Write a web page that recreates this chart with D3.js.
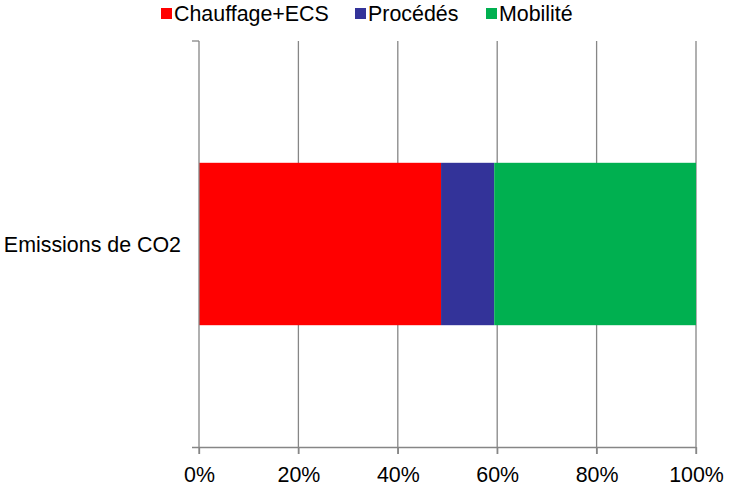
<!DOCTYPE html>
<html>
<head>
<meta charset="utf-8">
<script src="https://cdn.jsdelivr.net/npm/d3@7"></script>
<style>
  html, body { margin: 0; padding: 0; background: #fff; }
  svg { display: block; font-family: "Liberation Sans", Arial, sans-serif; }
</style>
</head>
<body>
<svg id="chart" width="730" height="492"></svg>
<script>
// Share of CO2 emissions by usage (percent of total)
const categories = ["Emissions de CO2"];
const seriesNames = ["Chauffage+ECS", "Procédés", "Mobilité"];
const seriesColors = ["#ff0000", "#333399", "#00b050"];
const chauffage = [48.7];
const procedes = [10.7];
const mobilite = [40.6];
const tickValues = [0, 20, 40, 60, 80, 100];

const svg = d3.select("#chart");
const plot = { left: 199, right: 696, top: 41, bottom: 447 };
const fontSize = "21.4px";

const x = d3.scaleLinear().domain([0, 100]).range([plot.left, plot.right]);
const y = d3.scaleBand().domain(categories).range([plot.top, plot.bottom]).paddingInner(0.6).paddingOuter(0.3);

const rows = categories.map((c, i) => ({
  cat: c, "Chauffage+ECS": chauffage[i], "Procédés": procedes[i], "Mobilité": mobilite[i]
}));
const stacked = d3.stack().keys(seriesNames)(rows);

// vertical gridlines
svg.append("g").selectAll("line").data(tickValues.slice(1)).join("line")
  .attr("x1", d => x(d)).attr("x2", d => x(d))
  .attr("y1", plot.top).attr("y2", plot.bottom + 7)
  .attr("stroke", "#868686").attr("stroke-width", 1.3);

// stacked bars
svg.append("g").selectAll("g").data(stacked).join("g")
  .attr("fill", (d, i) => seriesColors[i])
  .selectAll("rect").data(d => d).join("rect")
  .attr("x", d => x(d[0]))
  .attr("width", d => x(d[1]) - x(d[0]))
  .attr("y", d => y(d.data.cat))
  .attr("height", y.bandwidth());

// value axis (bottom)
const xAxis = d3.axisBottom(x).tickValues(tickValues).tickSize(7).tickSizeOuter(0)
  .tickFormat(d => d + "%").tickPadding(13);
const gx = svg.append("g").attr("transform", `translate(0,${plot.bottom})`).call(xAxis);
gx.select(".domain").attr("stroke", "#868686").attr("stroke-width", 1.3)
  .attr("d", `M${plot.left - 7},0.5H${plot.right}`);
gx.selectAll(".tick line").attr("stroke", "#868686").attr("stroke-width", 1.3);
gx.selectAll(".tick text").attr("fill", "#000").style("font-size", fontSize)
  .style("font-family", "'Liberation Sans', Arial, sans-serif");

// category axis (left)
svg.append("line")
  .attr("x1", plot.left).attr("x2", plot.left)
  .attr("y1", plot.top).attr("y2", plot.bottom + 7)
  .attr("stroke", "#868686").attr("stroke-width", 1.3);
svg.append("line")
  .attr("x1", plot.left - 7).attr("x2", plot.left)
  .attr("y1", plot.top).attr("y2", plot.top)
  .attr("stroke", "#868686").attr("stroke-width", 1.3);
svg.append("g").selectAll("text").data(categories).join("text")
  .attr("x", plot.left - 18)
  .attr("y", d => y(d) + y.bandwidth() / 2 + 1)
  .attr("dy", "0.35em")
  .attr("text-anchor", "end")
  .style("font-size", fontSize)
  .attr("fill", "#000")
  .text(d => d);

// legend
const legendX = [161, 355, 486];
const lg = svg.append("g").selectAll("g").data(seriesNames).join("g")
  .attr("transform", (d, i) => `translate(${legendX[i]},8)`);
lg.append("rect").attr("width", 11).attr("height", 11).attr("fill", (d, i) => seriesColors[i]);
lg.append("text").attr("x", 13).attr("y", 5.5).attr("dy", "0.36em")
  .style("font-size", fontSize).attr("fill", "#000").text(d => d);
</script>
</body>
</html>
